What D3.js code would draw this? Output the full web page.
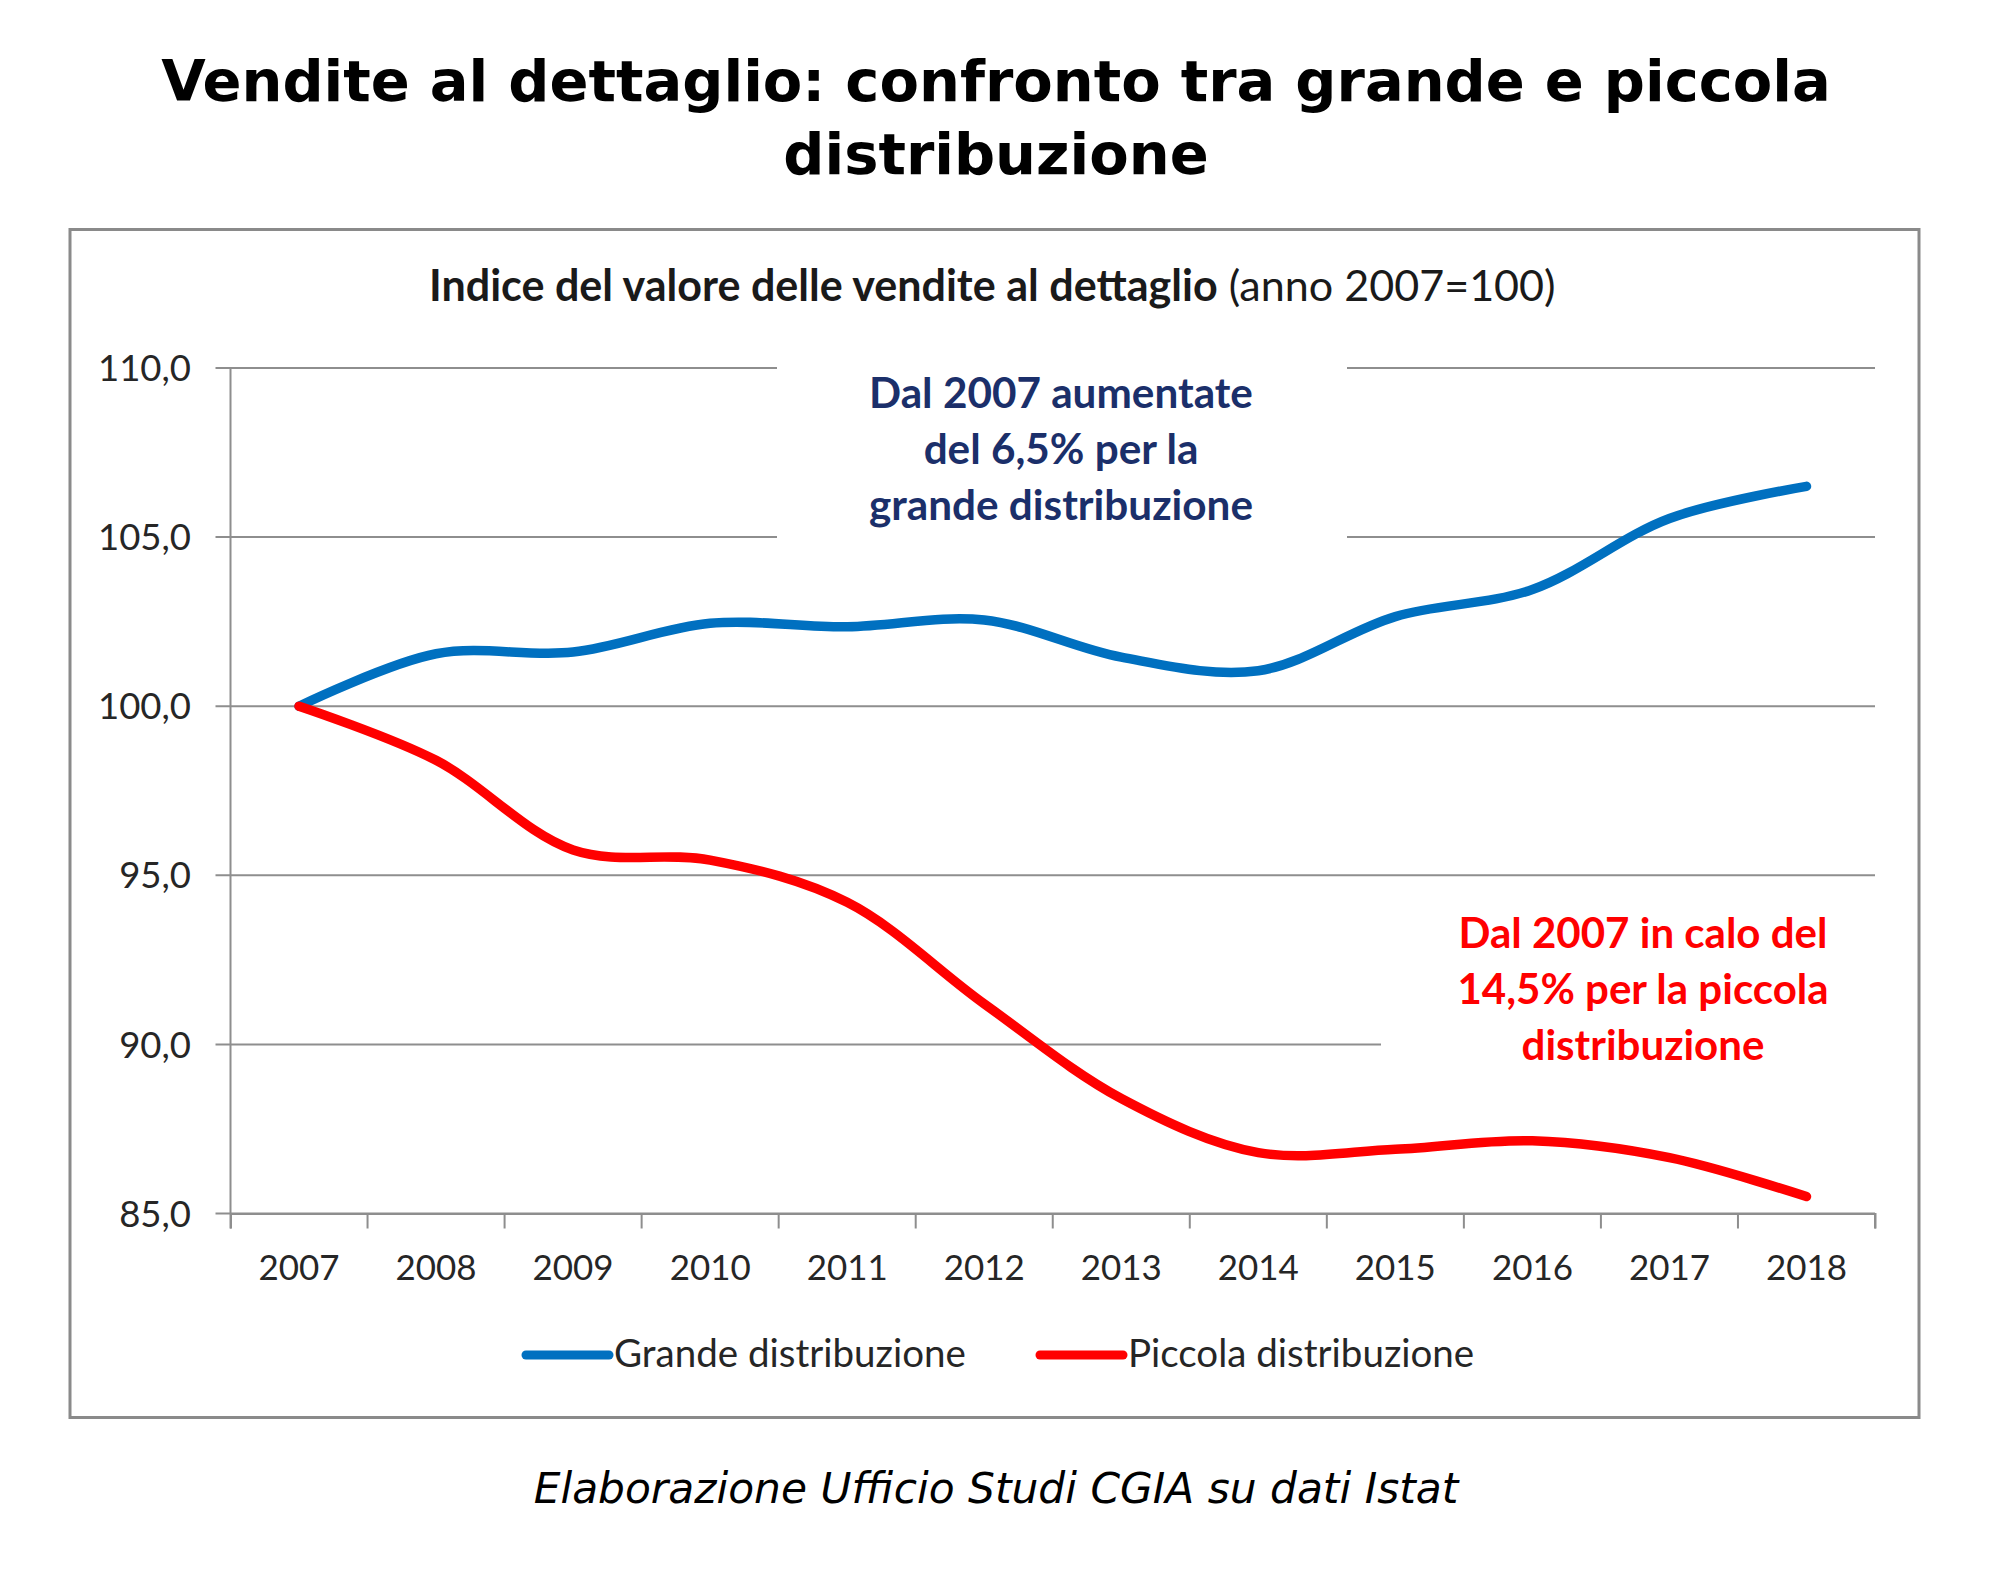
<!DOCTYPE html>
<html>
<head>
<meta charset="utf-8">
<script src="https://cdn.jsdelivr.net/npm/d3@7"></script>
<style>
  html, body { margin: 0; padding: 0; background: #ffffff; }
  svg { display: block; }
</style>
</head>
<body>
<svg id="chart" width="1992" height="1590"></svg>
<script>
// ---------------- DATA ----------------
const years = ["2007","2008","2009","2010","2011","2012","2013","2014","2015","2016","2017","2018"];
const grande = [100.0, 101.55, 101.6, 102.45, 102.35, 102.55, 101.45, 101.05, 102.65, 103.45, 105.55, 106.5];
const piccola = [100.0, 98.4, 95.75, 95.45, 94.2, 91.2, 88.4, 86.8, 86.9, 87.15, 86.65, 85.5];
const yTickValues = [85, 90, 95, 100, 105, 110];
const seriesNames = ["Grande distribuzione", "Piccola distribuzione"];
const titleLines = ["Vendite al dettaglio: confronto tra grande e piccola", "distribuzione"];
const subtitleBold = "Indice del valore delle vendite al dettaglio";
const subtitleNormal = " (anno 2007=100)";
const noteBlue = ["Dal 2007 aumentate", "del 6,5% per la", "grande distribuzione"];
const noteRed = ["Dal 2007 in calo del", "14,5% per la piccola", "distribuzione"];
const sourceText = "Elaborazione Ufficio Studi CGIA su dati Istat";

// ---------------- SETUP ----------------
const svg = d3.select("#chart");
const BLUE = "#0070C0", RED = "#FF0000", NAVY = "#1b2f6a", GRID = "#8e8e8e";
const calibri = "Lato, 'Open Sans', sans-serif";
const verdana = "'DejaVu Sans', Verdana, sans-serif";

const plot = { left: 230.5, right: 1875, top: 368, bottom: 1213.5 };
const x = d3.scaleBand().domain(years).range([plot.left, plot.right]);
const xc = d => x(d) + x.bandwidth() / 2;
const y = d3.scaleLinear().domain([85, 110]).range([plot.bottom, plot.top]);
const itFmt = d3.formatLocale({ decimal: ",", thousands: ".", grouping: [3], currency: ["€", ""] }).format(".1f");

// fit the font size of a text element so that its width equals target
function fitSize(textSel, target) {
  const base = parseFloat(textSel.attr("font-size"));
  const len = textSel.node().getComputedTextLength();
  const s = base * target / len;
  textSel.attr("font-size", s);
  return s;
}

// ---------------- TITLE ----------------
const t1 = svg.append("text").attr("x", 996).attr("y", 101).attr("text-anchor", "middle")
  .attr("font-family", verdana).attr("font-weight", "bold").attr("font-size", 56).attr("fill", "#000")
  .text(titleLines[0]);
const titleSize = fitSize(t1, 1670);
svg.append("text").attr("x", 996).attr("y", 174).attr("text-anchor", "middle")
  .attr("font-family", verdana).attr("font-weight", "bold").attr("font-size", titleSize).attr("fill", "#000")
  .text(titleLines[1]);

// ---------------- FRAME ----------------
svg.append("rect").attr("x", 70).attr("y", 229.5).attr("width", 1849).attr("height", 1188)
  .attr("fill", "#fff").attr("stroke", "#8a8a8a").attr("stroke-width", 3);

// ---------------- SUBTITLE ----------------
const sub = svg.append("text").attr("x", 429).attr("y", 301)
  .attr("font-family", calibri).attr("font-size", 40).attr("fill", "#1a1a1a");
sub.append("tspan").attr("font-weight", "bold").text(subtitleBold);
sub.append("tspan").attr("font-weight", "normal").text(subtitleNormal);
fitSize(sub, 1127);

// ---------------- GRID + AXES ----------------
const gGrid = svg.append("g");
gGrid.selectAll("line").data(yTickValues).join("line")
  .attr("x1", plot.left - 15).attr("x2", plot.right)
  .attr("y1", d => y(d)).attr("y2", d => y(d))
  .attr("stroke", GRID).attr("stroke-width", 2);

// vertical axis line
svg.append("line").attr("x1", plot.left).attr("x2", plot.left)
  .attr("y1", y(110)).attr("y2", y(85)).attr("stroke", GRID).attr("stroke-width", 2);

// x axis ticks at band boundaries
const xAxis = d3.axisBottom(x).tickSize(15).tickSizeOuter(15).tickFormat("");
const gx = svg.append("g").attr("transform", `translate(0,${y(85)})`).call(xAxis);
gx.select(".domain").attr("stroke", GRID).attr("stroke-width", 2);
gx.selectAll(".tick").attr("transform", d => `translate(${x(d)},0)`);
gx.selectAll(".tick line").attr("stroke", GRID).attr("stroke-width", 2);
svg.append("line").attr("x1", plot.right).attr("x2", plot.right)
  .attr("y1", y(85)).attr("y2", y(85) + 15).attr("stroke", GRID).attr("stroke-width", 2);

// x labels
const xl = svg.append("g").selectAll("text").data(years).join("text")
  .attr("x", d => xc(d)).attr("y", 1280).attr("text-anchor", "middle")
  .attr("font-family", calibri).attr("font-size", 35).attr("fill", "#262626").text(d => d);
const xs = fitSize(d3.select(xl.nodes()[0]), 81);
xl.attr("font-size", xs);

// y labels
const yl = svg.append("g").selectAll("text").data(yTickValues).join("text")
  .attr("x", 191).attr("y", d => y(d)).attr("dy", "0.36em").attr("text-anchor", "end")
  .attr("font-family", calibri).attr("font-size", 35).attr("fill", "#262626").text(d => itFmt(d));
const ys = fitSize(d3.select(yl.nodes()[yl.size() - 1]), 93);
yl.attr("font-size", ys);

// ---------------- ANNOTATION BOXES ----------------
svg.append("rect").attr("x", 777).attr("y", 345).attr("width", 570).attr("height", 205).attr("fill", "#fff");
svg.append("rect").attr("x", 1381).attr("y", 895).attr("width", 505).attr("height", 190).attr("fill", "#fff");

// ---------------- LINES ----------------
const line = d3.line().x((d, i) => xc(years[i])).y(d => y(d)).curve(d3.curveCatmullRom.alpha(0.5));
svg.append("path").datum(grande).attr("d", line).attr("fill", "none")
  .attr("stroke", BLUE).attr("stroke-width", 9.5).attr("stroke-linecap", "round").attr("stroke-linejoin", "round");
svg.append("path").datum(piccola).attr("d", line).attr("fill", "none")
  .attr("stroke", RED).attr("stroke-width", 9.5).attr("stroke-linecap", "round").attr("stroke-linejoin", "round");

// ---------------- ANNOTATION TEXTS ----------------
function note(lines, cx, baselines, color, target) {
  const g = svg.append("g");
  const ts = g.selectAll("text").data(lines).join("text")
    .attr("x", cx).attr("y", (d, i) => baselines[i]).attr("text-anchor", "middle")
    .attr("font-family", calibri).attr("font-weight", "bold").attr("font-size", 36)
    .attr("fill", color).text(d => d);
  const s = fitSize(d3.select(ts.nodes()[0]), target);
  ts.attr("font-size", s);
}
note(noteBlue, 1061, [408, 464, 520], NAVY, 384);
note(noteRed, 1643, [948, 1004, 1060], RED, 369);

// ---------------- LEGEND ----------------
const legend = [
  { name: seriesNames[0], color: BLUE, x0: 526, x1: 609, tx: 614, w: 352 },
  { name: seriesNames[1], color: RED, x0: 1040, x1: 1123, tx: 1128, w: 346 }
];
const lg = svg.append("g");
lg.selectAll("line").data(legend).join("line")
  .attr("x1", d => d.x0).attr("x2", d => d.x1).attr("y1", 1355).attr("y2", 1355)
  .attr("stroke", d => d.color).attr("stroke-width", 9).attr("stroke-linecap", "round");
const lt = lg.selectAll("text").data(legend).join("text")
  .attr("x", d => d.tx).attr("y", 1367).attr("font-family", calibri).attr("font-size", 34)
  .attr("fill", "#262626").text(d => d.name);
const ls = fitSize(d3.select(lt.nodes()[0]), legend[0].w);
lt.attr("font-size", ls);

// ---------------- SOURCE ----------------
const src = svg.append("text").attr("x", 996).attr("y", 1503).attr("text-anchor", "middle")
  .attr("font-family", verdana).attr("font-style", "italic").attr("font-size", 34).attr("fill", "#000")
  .text(sourceText);
fitSize(src, 925);
</script>
</body>
</html>
